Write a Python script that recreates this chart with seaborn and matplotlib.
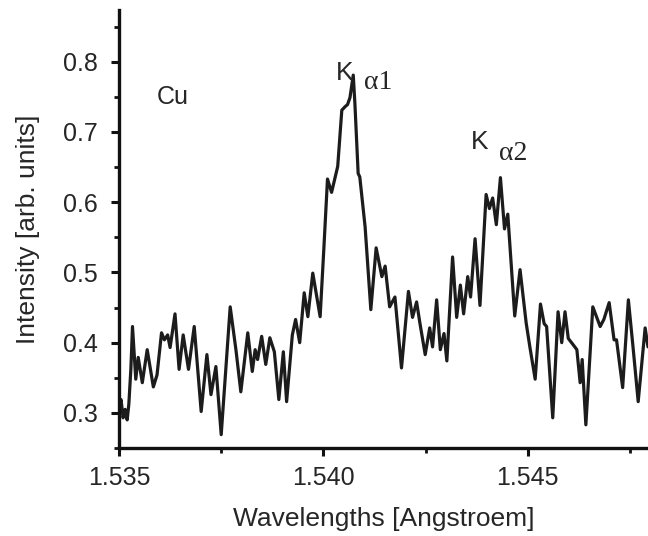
from matplotlib import pyplot as plt
from matplotlib.ticker import MultipleLocator
import seaborn as sns
import pandas as pd

# Cu K-alpha spectrum
wavelength = [
    1.53500, 1.53505, 1.53510, 1.53515, 1.53520, 1.53524, 1.53529, 1.53533, 1.53541, 1.53547,
    1.53557, 1.53569, 1.53584, 1.53593, 1.53604, 1.53611, 1.53619, 1.53625, 1.53637, 1.53647,
    1.53657, 1.53670, 1.53684, 1.53701, 1.53715, 1.53725, 1.53737, 1.53750, 1.53772, 1.53786,
    1.53798, 1.53815, 1.53826, 1.53833, 1.53839, 1.53849, 1.53859, 1.53869, 1.53880, 1.53891,
    1.53902, 1.53910, 1.53924, 1.53932, 1.53942, 1.53953, 1.53962, 1.53974, 1.53992, 1.54001,
    1.54010, 1.54020, 1.54035, 1.54045, 1.54053, 1.54059, 1.54065, 1.54073, 1.54077, 1.54085,
    1.54089, 1.54102, 1.54116, 1.54129, 1.54143, 1.54151, 1.54162, 1.54175, 1.54191, 1.54208,
    1.54218, 1.54228, 1.54236, 1.54249, 1.54260, 1.54267, 1.54277, 1.54286, 1.54295, 1.54302,
    1.54316, 1.54326, 1.54335, 1.54343, 1.54353, 1.54360, 1.54371, 1.54383, 1.54398, 1.54406,
    1.54414, 1.54423, 1.54433, 1.54443, 1.54451, 1.54468, 1.54481, 1.54496, 1.54505, 1.54518,
    1.54531, 1.54540, 1.54546, 1.54561, 1.54574, 1.54583, 1.54591, 1.54599, 1.54611, 1.54620,
    1.54628, 1.54633, 1.54642, 1.54659, 1.54668, 1.54677, 1.54686, 1.54699, 1.54711, 1.54717,
    1.54732, 1.54746, 1.54758, 1.54770, 1.54787, 1.54794,
]
intensity = [
    0.308, 0.319, 0.293, 0.305, 0.290, 0.312, 0.362, 0.423, 0.348, 0.379,
    0.343, 0.390, 0.337, 0.354, 0.414, 0.404, 0.411, 0.393, 0.441, 0.362,
    0.411, 0.362, 0.423, 0.302, 0.383, 0.326, 0.366, 0.269, 0.451, 0.390,
    0.330, 0.414, 0.359, 0.390, 0.376, 0.409, 0.369, 0.407, 0.387, 0.319,
    0.387, 0.316, 0.411, 0.433, 0.400, 0.471, 0.437, 0.499, 0.437, 0.533,
    0.633, 0.614, 0.651, 0.731, 0.736, 0.739, 0.749, 0.781, 0.741, 0.641,
    0.636, 0.565, 0.447, 0.535, 0.494, 0.509, 0.451, 0.465, 0.364, 0.473,
    0.436, 0.458, 0.428, 0.383, 0.421, 0.394, 0.461, 0.390, 0.413, 0.374,
    0.522, 0.436, 0.482, 0.441, 0.494, 0.465, 0.548, 0.453, 0.611, 0.591,
    0.606, 0.568, 0.635, 0.562, 0.583, 0.438, 0.504, 0.428, 0.394, 0.348,
    0.455, 0.427, 0.423, 0.293, 0.444, 0.400, 0.444, 0.406, 0.397, 0.390,
    0.343, 0.376, 0.283, 0.451, 0.437, 0.423, 0.433, 0.457, 0.404, 0.404,
    0.336, 0.461, 0.390, 0.316, 0.421, 0.394,
]

df = pd.DataFrame({"wavelength": wavelength, "intensity": intensity})

sns.set_style("ticks")
plt.rcParams['font.family'] = ['Liberation Sans', 'DejaVu Sans']

fig = plt.figure(figsize=(6.48, 5.36), dpi=100)
ax = fig.add_axes([119/648, 88/536, 529/648, 438/536])

sns.lineplot(data=df, x="wavelength", y="intensity", color="#1c1c1c", linewidth=2.3, ax=ax)
ax.lines[0].set_solid_joinstyle("round")

ax.set_xlim(1.535, 1.54794)
ax.set_ylim(0.25, 0.8737)
ax.xaxis.set_minor_locator(MultipleLocator(0.0025))
ax.yaxis.set_minor_locator(MultipleLocator(0.05))
ax.set_xticks([1.535, 1.540, 1.545])
ax.set_xticklabels(["1.535", "1.540", "1.545"])
ax.set_yticks([0.3, 0.4, 0.5, 0.6, 0.7, 0.8])
ax.set_yticklabels(["0.3", "0.4", "0.5", "0.6", "0.7", "0.8"])

sns.despine(ax=ax)
for s in ["left", "bottom"]:
    ax.spines[s].set_linewidth(2.4)
    ax.spines[s].set_color("#111111")
ax.tick_params(which="major", length=6, width=2.2, labelsize=18, color="#111111")
ax.tick_params(axis="y", which="major", pad=9)
ax.tick_params(axis="x", which="major", pad=7)
ax.tick_params(which="minor", length=3.5, width=2.0, color="#111111")

ax.set_xlabel("Wavelengths [Angstroem]", fontsize=19, labelpad=12)
ax.set_ylabel("Intensity [arb. units]", fontsize=19, labelpad=17)

ax.text(1.53632, 0.750, "Cu", fontsize=18, ha="center", va="center")
ax.text(1.54053, 0.784, "K", fontsize=19, ha="center", va="center")
ax.text(1.54134, 0.771, "α1", fontsize=20, ha="center", va="center", family=["Liberation Serif", "DejaVu Serif"])
ax.text(1.54383, 0.6855, "K", fontsize=19, ha="center", va="center")
ax.text(1.54464, 0.670, "α2", fontsize=20, ha="center", va="center", family=["Liberation Serif", "DejaVu Serif"])

plt.savefig("out.png", dpi=100)
